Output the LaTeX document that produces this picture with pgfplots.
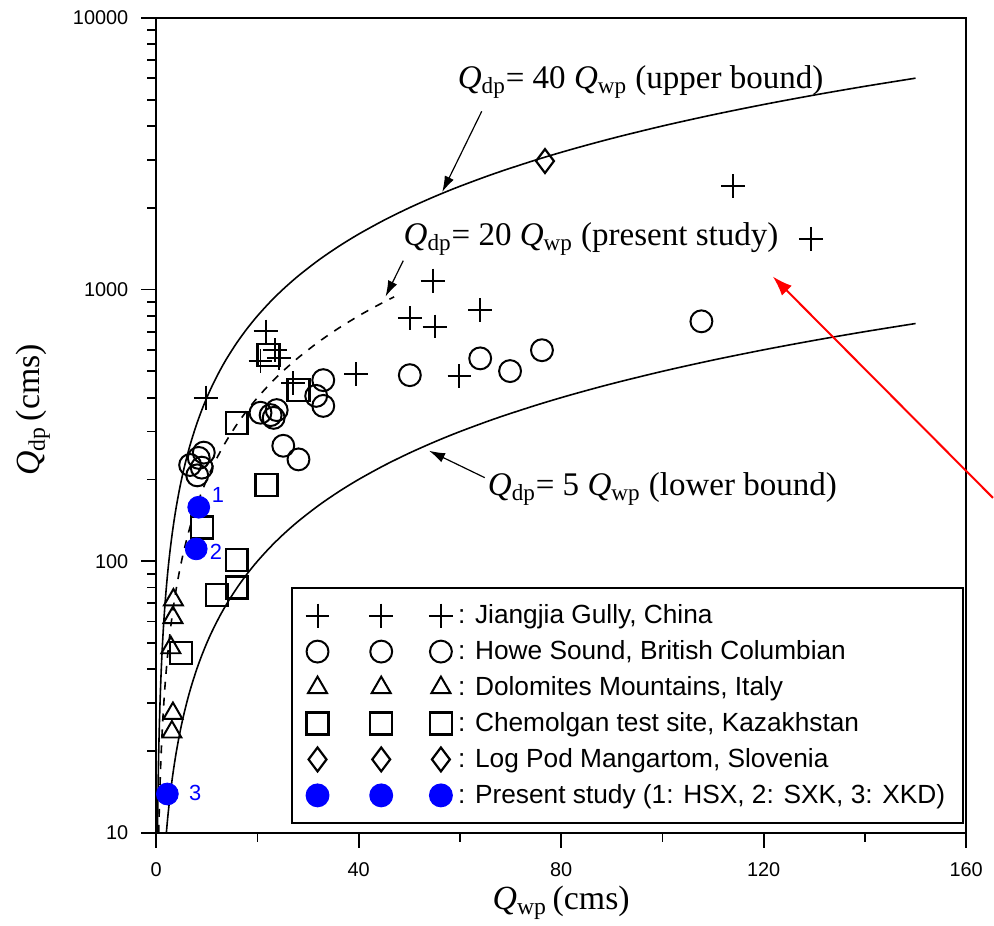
\documentclass[border=0pt]{standalone}
\usepackage{pgfplots}
\pgfplotsset{compat=1.18}
\usetikzlibrary{arrows.meta}
\usepackage{fontspec}
\setmainfont{Liberation Serif}
\newfontfamily\sansf{Liberation Sans}
\begin{document}
\begin{tikzpicture}
\begin{axis}[
  scale only axis,
  width=407pt, height=409.5pt,
  xmin=0, xmax=160, ymin=10, ymax=10000,
  ymode=log,
  clip=false,
  xtick={0,40,80,120,160},
  minor xtick={20,60,100,140},
  ytick={10,100,1000,10000},
  yticklabels={10,100,1000,10000},
  xtick pos=bottom, ytick pos=left,
  tick align=outside,
  major tick length=7.5pt,
  minor tick length=4.5pt,
  axis line style={line width=1pt},
  every tick/.style={line width=0.9pt, black},
  /pgf/number format/assume math mode=true,
  ticklabel style={font=\sansf\fontsize{10}{12}\selectfont},
  xticklabel style={yshift=-4pt},
  yticklabel style={xshift=-3pt},
  xlabel={{\itshape Q}\textsubscript{wp}\,(cms)},
  ylabel={{\itshape Q}\textsubscript{dp}\,(cms)},
  every axis x label/.style={at={(axis description cs:0.5,-0.0855)}, anchor=center, font=\fontsize{17}{20}\selectfont},
  every axis y label/.style={at={(axis description cs:-0.152,0.519)}, anchor=center, rotate=90, font=\fontsize{17}{20}\selectfont},
  legend style={at={(rel axis cs:0.166,0.302)}, anchor=north west, draw=black, line width=1pt,
    font=\sansf\fontsize{13.2}{15}\selectfont, row sep=3pt, inner xsep=7pt, inner ysep=6.5pt},
  legend cell align=left,
  legend image code/.code={\draw[mark repeat=1,mark phase=1] plot coordinates {(0pt,0pt) (32pt,0pt) (62pt,0pt)};\path (68pt,0pt);},
]
% bound curves
\addplot[forget plot, black, line width=0.8pt, smooth] coordinates {
(0.25,10) (0.28,11.2) (0.32,12.8) (0.36,14.4) (0.4,16) (0.45,18) (0.5,20) (0.56,22.4) (0.63,25.2) (0.7,28) (0.8,32) (0.9,36) (1,40) (1.1,44) (1.25,50) (1.4,56) (1.6,64) (1.8,72) (2,80) (2.25,90) (2.5,100) (2.8,112) (3.2,128) (3.6,144) (4,160) (4.5,180) (5,200) (5.6,224) (6.3,252) (7,280) (8,320) (9,360) (10,400) (11,440) (12.5,500) (14,560) (16,640) (18,720) (20,800) (22.5,900) (25,1000) (28,1120) (32,1280) (36,1440) (40,1600) (45,1800) (50,2000) (55,2200) (60,2400) (67,2680) (75,3000) (82,3280) (90,3600) (100,4000) (110,4400) (120,4800) (130,5200) (140,5600) (150,6000)};
\addplot[forget plot, black, line width=0.8pt, smooth, dash pattern=on 4pt off 4pt] coordinates {
(0.5,10) (0.56,11.2) (0.63,12.6) (0.7,14) (0.8,16) (0.9,18) (1,20) (1.1,22) (1.25,25) (1.4,28) (1.6,32) (1.8,36) (2,40) (2.25,45) (2.5,50) (2.8,56) (3.2,64) (3.6,72) (4,80) (4.5,90) (5,100) (5.6,112) (6.3,126) (7,140) (8,160) (9,180) (10,200) (11,220) (12.5,250) (14,280) (16,320) (18,360) (20,400) (22.5,450) (25,500) (28,560) (32,640) (36,720) (40,800) (43.5,870) (47,940)};
\addplot[forget plot, black, line width=0.8pt, smooth] coordinates {
(2,10) (2.25,11.25) (2.5,12.5) (2.8,14) (3.2,16) (3.6,18) (4,20) (4.5,22.5) (5,25) (5.6,28) (6.3,31.5) (7,35) (8,40) (9,45) (10,50) (11,55) (12.5,62.5) (14,70) (16,80) (18,90) (20,100) (22.5,112.5) (25,125) (28,140) (32,160) (36,180) (40,200) (45,225) (50,250) (55,275) (60,300) (67,335) (75,375) (82,410) (90,450) (100,500) (110,550) (120,600) (130,650) (140,700) (150,750)};
% Jiangjia Gully
\addplot[only marks, mark=+, mark size=6pt, black, line width=1pt] coordinates {
(9.8,400) (21.6,701) (23.4,598) (20.6,545) (24.2,558) (27.1,453) (39.5,489) (50.1,783) (55.0,731) (54.6,1079) (64.0,838) (59.9,480) (114,2404) (129.3,1538)};
\addlegendentry{: Jiangjia Gully, China}
% Howe Sound
\addplot[only marks, mark=o, mark size=5.5pt, black, line width=1pt] coordinates {
(6.7,226) (8.4,240) (9.4,251) (8.1,207) (9.0,221) (20.6,352) (22.6,345) (23.8,360) (23.2,337) (25.1,266) (28.1,237) (33.0,464) (31.6,406) (33.0,373) (50.1,484) (64.0,558) (69.9,501) (76.2,598) (107.7,764)};
\addlegendentry{: Howe Sound, British Columbian}
% Dolomites
\addplot[only marks, mark=triangle, mark size=5.5pt, black, line width=1pt] coordinates {
(3.4,72) (3.3,62) (2.9,48) (3.3,27.5) (3.1,23.5)};
\addlegendentry{: Dolomites Mountains, Italy}
% Chemolgan
\addplot[only marks, mark=square, mark size=5.5pt, black, line width=1.2pt] coordinates {
(15.9,323) (28.1,426) (21.8,191) (9.0,133) (15.9,101) (12,75) (15.9,80) (4.9,46) (22.2,573)};
\addlegendentry{: Chemolgan test site, Kazakhstan}
% Log Pod
\addplot[only marks, mark=diamond, mark size=6pt, black, line width=1.1pt] coordinates {
(76.8,2972)};
\addlegendentry{: Log Pod Mangartom, Slovenia}
% Present study
\addplot[only marks, mark=*, mark size=5.5pt, blue, mark options={fill=blue, draw=blue}] coordinates {
(8.4,158) (7.9,111) (2.2,13.9)};
\addlegendentry{: Present study (1: HSX, 2: SXK, 3: XKD)}
% point labels
\node[blue, font=\sansf\fontsize{11}{13}\selectfont] at (axis cs:12.2,176) {1};
\node[blue, font=\sansf\fontsize{11}{13}\selectfont] at (axis cs:11.8,108) {2};
\node[blue, font=\sansf\fontsize{11}{13}\selectfont] at (axis cs:7.7,14.0) {3};
% annotations
\node[font=\fontsize{16.6}{19}\selectfont] at (axis cs:95.7,5800) {{\itshape Q}\textsubscript{dp}= 40 {\itshape Q}\textsubscript{wp} (upper bound)};
\draw[-{Latex[length=8pt,width=5pt]}, line width=0.6pt] (axis cs:64.3,4529) -- (axis cs:56.5,2286);
\node[font=\fontsize{16.6}{19}\selectfont] at (axis cs:85.9,1538) {{\itshape Q}\textsubscript{dp}= 20 {\itshape Q}\textsubscript{wp} (present study)};
\draw[-{Latex[length=8pt,width=5pt]}, line width=0.6pt] (axis cs:48.8,1277) -- (axis cs:45.3,942);
\node[font=\fontsize{16.6}{19}\selectfont] at (axis cs:100,184) {{\itshape Q}\textsubscript{dp}= 5 {\itshape Q}\textsubscript{wp} (lower bound)};
\draw[-{Latex[length=8pt,width=5pt]}, line width=0.6pt] (axis cs:64.9,203) -- (axis cs:53.9,255);
\draw[-{Latex[length=10pt,width=7pt]}, red, line width=1pt] (axis cs:165.3,171) -- (axis cs:121.8,1117);
\coordinate (o) at (rel axis cs:0,0);
\coordinate (t) at (rel axis cs:1,1);
\end{axis}
\path[use as bounding box] ([xshift=-78.5pt,yshift=-46pt]o) rectangle ([xshift=11.5pt,yshift=9pt]t);
\end{tikzpicture}
\end{document}
